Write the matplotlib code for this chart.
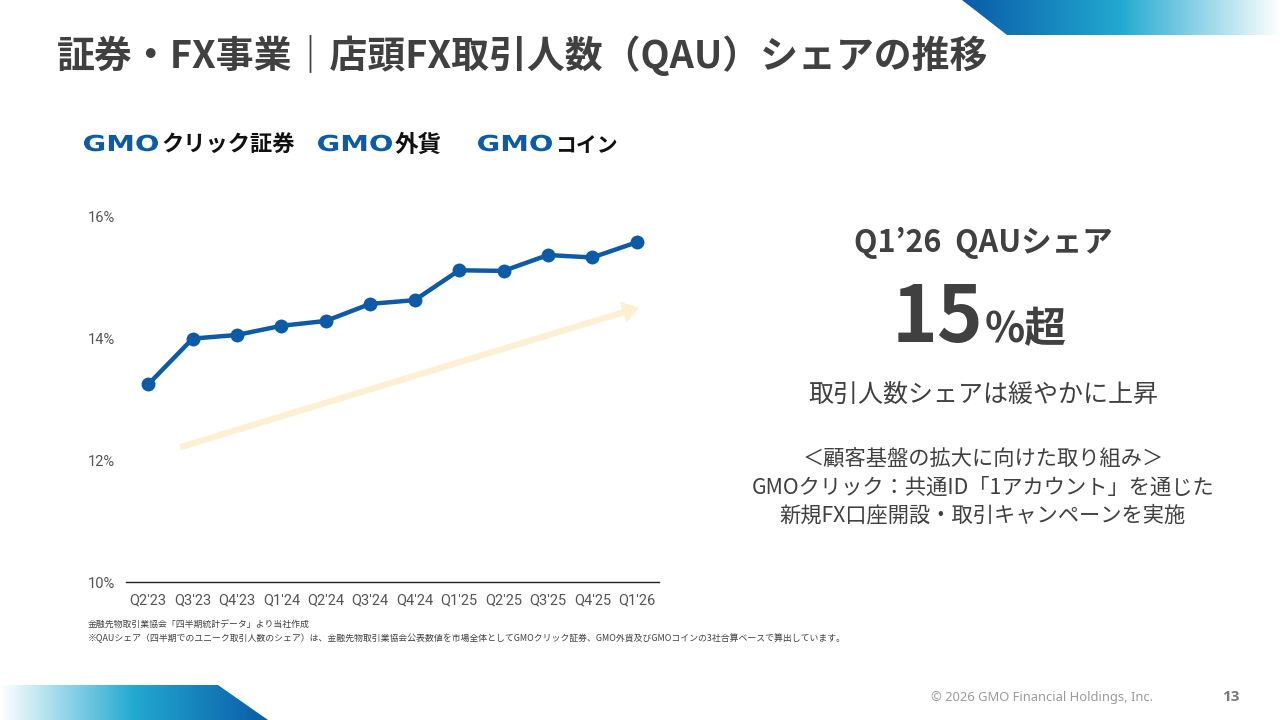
import numpy as np
import matplotlib
matplotlib.use("Agg")
import matplotlib.pyplot as plt
from matplotlib.patches import Polygon, PathPatch
from matplotlib.colors import LinearSegmentedColormap
from matplotlib.textpath import TextPath
from matplotlib.font_manager import FontProperties
from matplotlib.transforms import Affine2D

plt.rcParams['font.family'] = ['Noto Sans CJK JP', 'DejaVu Sans']

# ---- data ----
quarters = ["Q2'23", "Q3'23", "Q4'23", "Q1'24", "Q2'24", "Q3'24", "Q4'24",
            "Q1'25", "Q2'25", "Q3'25", "Q4'25", "Q1'26"]
qau_share = [13.24, 13.99, 14.05, 14.20, 14.28, 14.56, 14.62,
             15.11, 15.10, 15.36, 15.32, 15.57]
y_ticks = [10, 12, 14, 16]
y_tick_labels = ["10%", "12%", "14%", "16%"]

title = "証券・FX事業｜店頭FX取引人数（QAU）シェアの推移"
note1 = "金融先物取引業協会「四半期統計データ」より当社作成"
note2 = ("※QAUシェア（四半期でのユニーク取引人数のシェア）は、金融先物取引業協会公表数値を市場全体として"
         "GMOクリック証券、GMO外貨及びGMOコインの3社合算ベースで算出しています。")

W, H = 1280, 720
fig = plt.figure(figsize=(12.8, 7.2), dpi=100)
fig.patch.set_facecolor("white")

# ---- background layer in pixel coordinates ----
bg = fig.add_axes([0, 0, 1, 1])
bg.set_xlim(0, W)
bg.set_ylim(H, 0)
bg.axis("off")

cmap_top = LinearSegmentedColormap.from_list(
    "top", [(0, "#0A5BA8"), (0.5, "#22A9D0"), (1.0, "#FFFFFF")])
grad = np.linspace(0, 1, 256).reshape(1, -1)
im = bg.imshow(grad, cmap=cmap_top, extent=[962, 1280, 35, 0], aspect="auto", zorder=0)
poly = Polygon([(962, 0), (1280, 0), (1280, 35), (1007, 35)], closed=True,
               transform=bg.transData, facecolor="none", edgecolor="none")
bg.add_patch(poly)
im.set_clip_path(poly)

cmap_bot = LinearSegmentedColormap.from_list(
    "bot", [(0, "#FFFFFF"), (0.5, "#22A9D0"), (1.0, "#0A5BA8")])
im2 = bg.imshow(grad, cmap=cmap_bot, extent=[0, 268, 720, 685], aspect="auto", zorder=0)
poly2 = Polygon([(0, 685), (218, 685), (268, 720), (0, 720)], closed=True,
                transform=bg.transData, facecolor="none", edgecolor="none")
bg.add_patch(poly2)
im2.set_clip_path(poly2)

# title
bg.text(57, 55, title, fontsize=27.3, fontweight="bold", color="#404040",
        ha="left", va="center")

# logos (text approximation: extended "GMO" + company name)
gmo_prop = FontProperties(family="DejaVu Sans", weight="bold")
logos = [(84, "クリック証券", 16), (318, "外貨", 17), (478, "コイン", 15)]
baseline = 151
for x0, rest, fs in logos:
    tp = TextPath((0, 0), "GMO", size=22, prop=gmo_prop)
    ext = tp.get_extents()
    sx = 74.0 / ext.width
    tr = Affine2D().translate(-ext.x0, 0).scale(sx, -1.0).translate(x0, baseline)
    patch = PathPatch(tr.transform_path(tp), facecolor="#0A5BA8", edgecolor="none",
                      transform=bg.transData)
    bg.add_patch(patch)
    bg.text(x0 + 77, baseline + 1, rest, fontsize=fs, fontweight="bold", color="#111111",
            ha="left", va="baseline")

# right panel text
cx = 983
bg.text(cx, 243, "Q1’26  QAUシェア", fontsize=22, fontweight="bold", color="#404040",
        ha="center", va="center")
bg.text(cx, 342, "15", fontsize=56, fontweight="bold", color="#404040",
        ha="right", va="baseline")
bg.text(cx + 2, 342, "%超", fontsize=30, fontweight="bold", color="#404040",
        ha="left", va="baseline")
bg.text(cx, 395, "取引人数シェアは緩やかに上昇", fontsize=18, color="#404040",
        ha="center", va="center")
bg.text(cx, 460, "＜顧客基盤の拡大に向けた取り組み＞", fontsize=15.3, color="#404040",
        ha="center", va="center")
bg.text(cx, 488, "GMOクリック：共通ID「1アカウント」を通じた", fontsize=15.3, color="#404040",
        ha="center", va="center")
bg.text(cx, 515, "新規FX口座開設・取引キャンペーンを実施", fontsize=15.3, color="#404040",
        ha="center", va="center")

# footnotes
bg.text(88, 625, note1, fontsize=6.4, color="#404040", ha="left", va="center")
bg.text(88, 638, note2, fontsize=6.4, color="#404040", ha="left", va="center")

# footer
bg.text(1153, 697, "© 2026 GMO Financial Holdings, Inc.", fontsize=9.3, color="#9A9A9A",
        ha="right", va="center", family=["Noto Sans", "DejaVu Sans"])
bg.text(1231, 697, "13", fontsize=11, fontweight="bold", color="#7A7A7A",
        ha="center", va="center", family=["Open Sans", "DejaVu Sans"])

# ---- chart ----
ax = fig.add_axes([126 / W, 1 - 582 / H, 533 / W, 366 / H])
ax.patch.set_alpha(0)
x = np.arange(len(quarters))

# trend arrow (decorative)
ax.annotate("", xy=(11.05, 14.5), xytext=(0.72, 12.21),
            arrowprops=dict(arrowstyle="simple,head_length=1.2,head_width=1.6,tail_width=0.45",
                            color="#FDF0D2", lw=0, shrinkA=0, shrinkB=0),
            zorder=1)

ax.plot(x, qau_share, color="#0D5AA7", lw=3.2, marker="o", markersize=9,
        zorder=3, solid_joinstyle="round")

ax.set_xlim(-0.5, len(quarters) - 0.5)
ax.set_ylim(10, 16)
ax.set_xticks(x)
ax.set_xticklabels(quarters, family=["Roboto", "DejaVu Sans"], fontsize=10.5, color="#555555")
ax.set_yticks(y_ticks)
ax.set_yticklabels(y_tick_labels, family=["Roboto", "DejaVu Sans"], fontsize=10.5, color="#555555")
ax.tick_params(axis="both", length=0)
ax.tick_params(axis="x", pad=8)
ax.tick_params(axis="y", pad=8)
for s in ["top", "right", "left"]:
    ax.spines[s].set_visible(False)
ax.spines["bottom"].set_color("#222222")
ax.spines["bottom"].set_linewidth(1.0)

fig.savefig("out.png", dpi=100, facecolor="white")
